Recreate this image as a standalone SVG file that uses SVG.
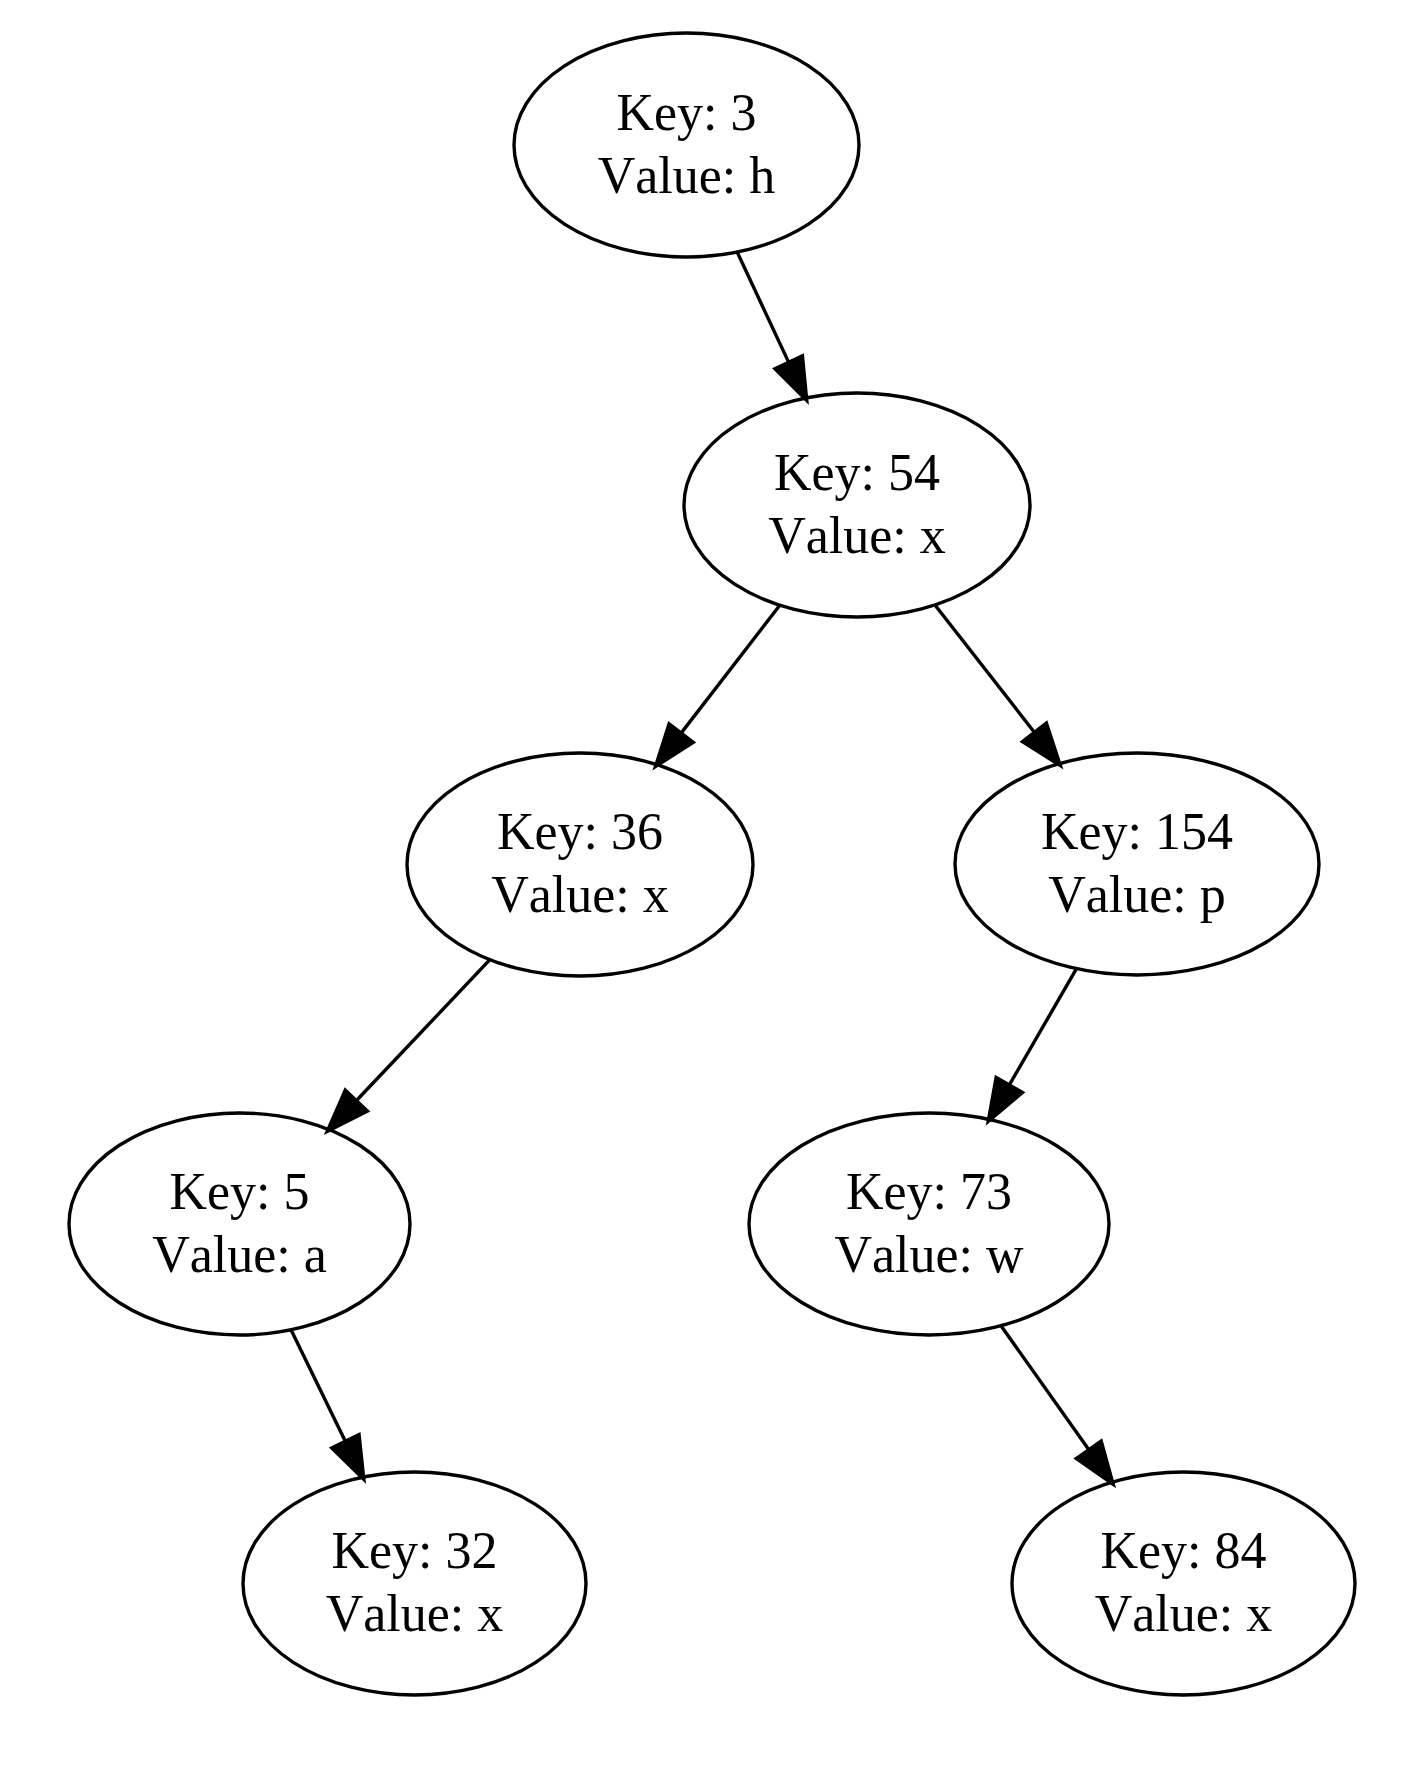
<svg xmlns="http://www.w3.org/2000/svg" width="1401" height="1767" viewBox="0 0 1401 1767">
<style>
.node ellipse{fill:none;stroke:#000;stroke-width:3.4}
.node text{font-family:"Liberation Serif","Times New Roman",serif;font-size:52px;font-kerning:none;fill:#000;text-anchor:middle}
.edge line{stroke:#000;stroke-width:3.4}
.edge polygon{fill:#000;stroke:#000;stroke-width:3;stroke-linejoin:miter}
</style>
<rect width="1401" height="1767" fill="#fff"/>
<g id="connectors">
<g class="edge"><line x1="737.2" y1="252.1" x2="788.6" y2="362.1"/><polygon points="807,401 774.6,368.7 802.6,355.5"/></g>
<g class="edge"><line x1="779.8" y1="605.2" x2="681.3" y2="732.9"/><polygon points="655.1,767 669,723.5 693.6,742.4"/></g>
<g class="edge"><line x1="935" y1="605" x2="1034.3" y2="732.2"/><polygon points="1060.7,766.1 1022.1,741.7 1046.5,722.7"/></g>
<g class="edge"><line x1="489.9" y1="959.7" x2="356.5" y2="1100.5"/><polygon points="326.9,1131.7 345.2,1089.8 367.8,1111.2"/></g>
<g class="edge"><line x1="1076.5" y1="968.7" x2="1009.4" y2="1084.8"/><polygon points="987.9,1122 996,1077 1022.8,1092.5"/></g>
<g class="edge"><line x1="291" y1="1329.8" x2="345.3" y2="1441.2"/><polygon points="364.1,1479.9 331.4,1448 359.2,1434.4"/></g>
<g class="edge"><line x1="1001" y1="1325.7" x2="1088.7" y2="1449.6"/><polygon points="1113.5,1484.7 1076,1458.6 1101.3,1440.6"/></g>
</g>
<g id="node3" class="node"><ellipse cx="686.5" cy="145" rx="172.5" ry="112"/><text x="686.5" y="130">Key: 3</text><text x="686.5" y="193">Value: h</text></g>
<g id="node54" class="node"><ellipse cx="857" cy="505" rx="173" ry="112"/><text x="857" y="490">Key: 54</text><text x="857" y="553">Value: x</text></g>
<g id="node36" class="node"><ellipse cx="580" cy="864.5" rx="173" ry="111.5"/><text x="580" y="849">Key: 36</text><text x="580" y="912">Value: x</text></g>
<g id="node154" class="node"><ellipse cx="1137" cy="864" rx="182" ry="111"/><text x="1137" y="849">Key: 154</text><text x="1137" y="912">Value: p</text></g>
<g id="node5" class="node"><ellipse cx="239.5" cy="1224" rx="170.5" ry="111"/><text x="239.5" y="1209">Key: 5</text><text x="239.5" y="1272">Value: a</text></g>
<g id="node73" class="node"><ellipse cx="929" cy="1224" rx="180" ry="111"/><text x="929" y="1209">Key: 73</text><text x="929" y="1272">Value: w</text></g>
<g id="node32" class="node"><ellipse cx="414.5" cy="1583.5" rx="171.5" ry="111.5"/><text x="414.5" y="1568">Key: 32</text><text x="414.5" y="1631">Value: x</text></g>
<g id="node84" class="node"><ellipse cx="1183.5" cy="1583.5" rx="171.5" ry="111.5"/><text x="1183.5" y="1568">Key: 84</text><text x="1183.5" y="1631">Value: x</text></g>
</svg>
